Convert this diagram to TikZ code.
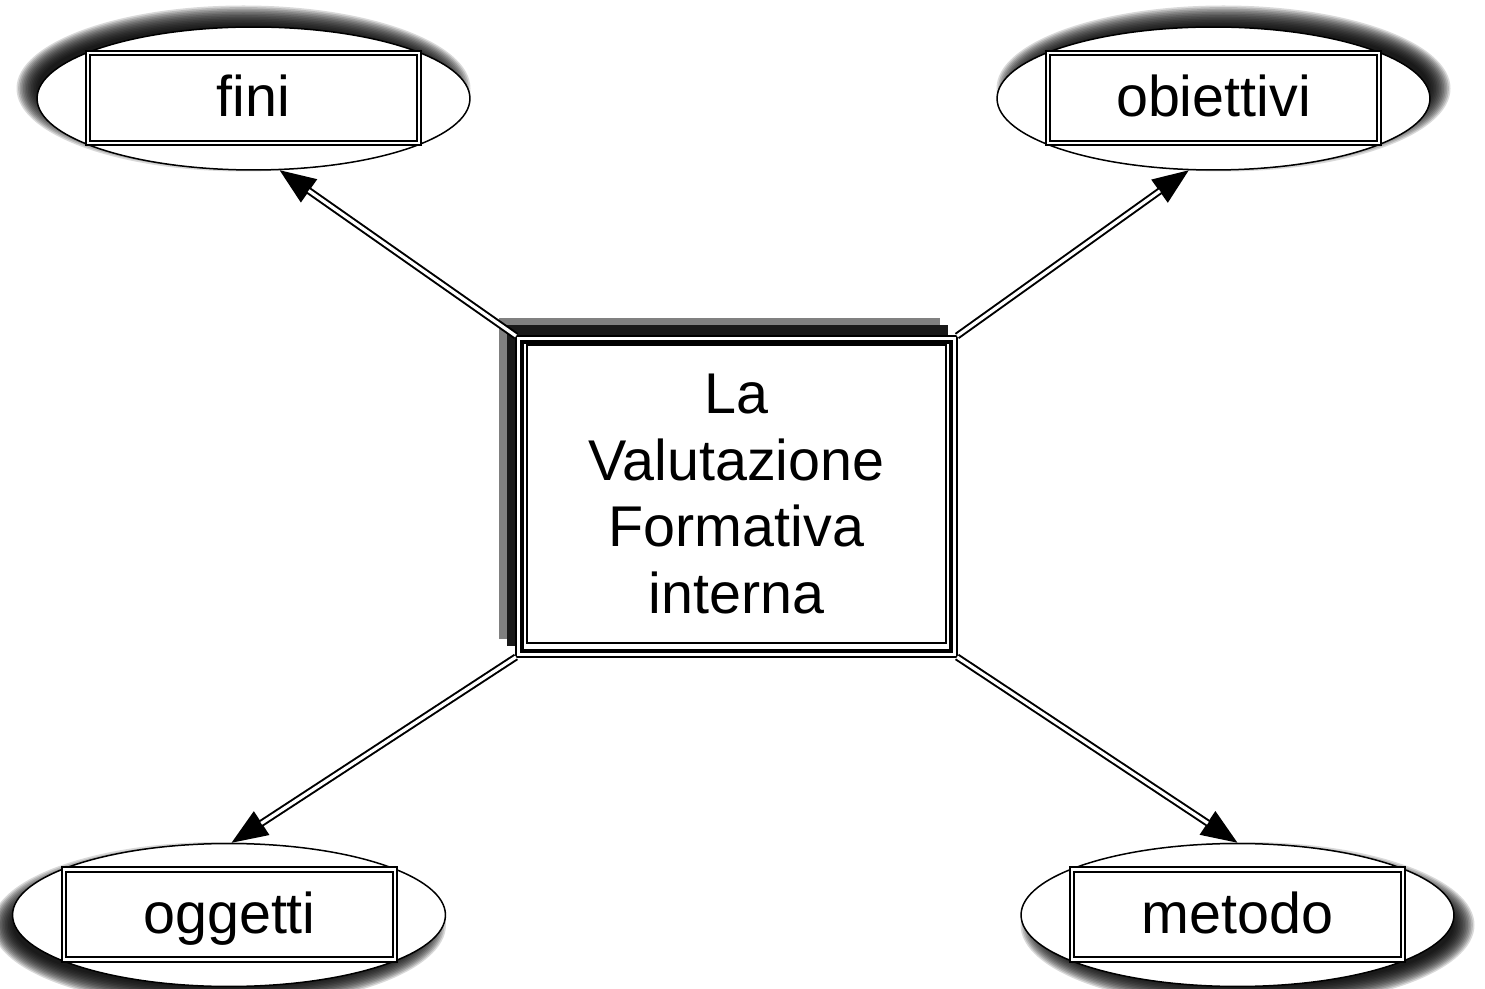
\documentclass[tikz,border=0pt]{standalone}
\usepackage{fontspec}
\setmainfont{Liberation Sans}
\usetikzlibrary{arrows.meta,shapes.geometric,backgrounds}
\newcommand{\BigText}{\fontsize{32.7}{38.1}\selectfont}
\tikzset{
    oval/.style={ellipse,draw=black,fill=white,line width=0.03cm,minimum width=8.66cm,minimum height=2.86cm,inner sep=0pt},
    tag/.style={rectangle,draw=black,double=white,double distance=0.045cm,line width=0.045cm,minimum width=6.62cm,minimum height=1.8cm,inner sep=0pt,text height=26.2pt,text depth=4.6pt,font=\BigText},
    core/.style={rectangle,draw=black,fill=white,line width=0.04cm,minimum width=8.38cm,minimum height=5.98cm,inner sep=0pt,align=center,font=\BigText},
    tipline/.style={line width=0.04cm,-{Triangle[length=0.72cm,width=0.56cm]}},
    link/.style={draw=black,line width=0.04cm,double=white,double distance=0.065cm,shorten >=0.71cm},
    blur/.style={fill=black,opacity=0.15},
}

\begin{document}
\begin{tikzpicture}[x=0.02cm,y=-0.02cm]
    \useasboundingbox (0,0) rectangle (1485,989);

    % frame of the central box
    \coordinate (nw) at (516,336);
    \coordinate (ne) at (957,336);
    \coordinate (sw) at (516,657);
    \coordinate (se) at (957,657);

    \fill[black!50] ([shift={(-17,-18)}]nw) rectangle ([shift={(-17,-18)}]se);
    \fill[black!90] ([shift={(-9,-11)}]nw) rectangle ([shift={(-9,-11)}]se);
    \filldraw[fill=white,line width=0.04cm] (nw) rectangle (se);
    \draw[line width=0.09cm] ([shift={(6,6)}]nw) rectangle ([shift={(-6,-6)}]se);
    \node[core,yshift=0.05cm] (main) at (736.5,496.5) {La\\Valutazione\\Formativa\\interna};

    \node[oval] (fini)      at (253.5,98.5)  {};
    \node[oval] (obiettivi) at (1213.5,98.5) {};
    \node[oval] (oggetti)   at (229,915)     {};
    \node[oval] (metodo)    at (1237.5,915)  {};

    \node[tag] (fini-txt)      at (253.5,98)  {fini};
    \node[tag] (obiettivi-txt) at (1213.5,98) {obiettivi};
    \node[tag] (oggetti-txt)   at (229.5,914.5) {oggetti};
    \node[tag] (metodo-txt)    at (1237.5,914.5) {metodo};

    \begin{scope}[on background layer]
        \foreach \n/\dx/\dy in {fini/-10/-10,obiettivi/10/-10,oggetti/-10/10,metodo/10/10}
            \foreach \r in {0,...,13}
                \fill[blur] ([shift={(\dx,\dy)}]\n.center) ellipse [x radius={(227-1.6*\r)*0.02cm},y radius={(83-1.6*\r)*0.02cm}];
    \end{scope}

    \path[tipline] (nw) edge (fini.-70)
                   (ne) edge (obiettivi.-109)
                   (sw) edge (oggetti.88)
                   (se) edge (metodo.90);
    \path (nw) edge[link] (fini.-70)
          (ne) edge[link] (obiettivi.-109)
          (sw) edge[link] (oggetti.88)
          (se) edge[link] (metodo.90);
\end{tikzpicture}
\end{document}
